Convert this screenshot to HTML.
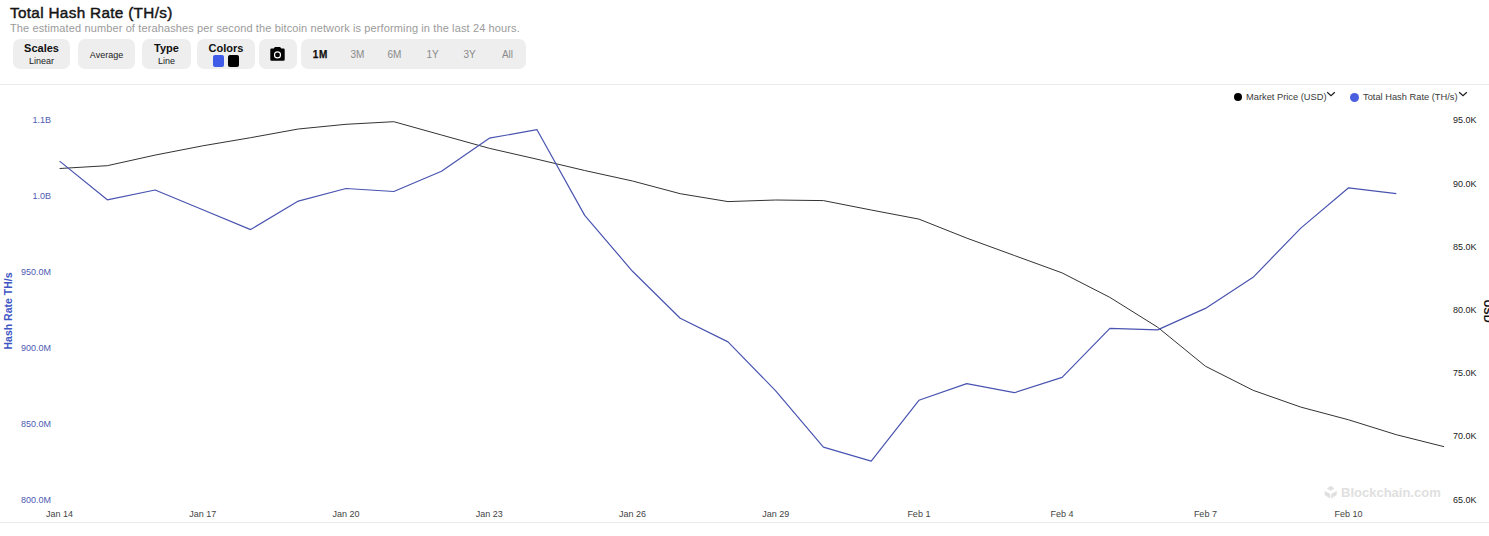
<!DOCTYPE html>
<html><head><meta charset="utf-8">
<style>
html,body{margin:0;padding:0;background:#fff;}
body{width:1489px;height:536px;position:relative;overflow:hidden;font-family:"Liberation Sans",sans-serif;}
.abs{position:absolute;}
.title{position:absolute;left:10px;top:4px;font-size:15.3px;font-weight:normal;color:#151515;-webkit-text-stroke:0.45px #151515;letter-spacing:0.32px;white-space:nowrap;line-height:18px;}
.sub{position:absolute;left:10px;top:22px;font-size:11px;color:#9b9b9b;white-space:nowrap;line-height:13px;letter-spacing:0.12px;}
.btn{position:absolute;top:39px;height:30px;background:#eeeeee;border-radius:7px;text-align:center;color:#111;}
.btn .h{font-size:11px;font-weight:bold;line-height:12px;position:absolute;left:0;right:0;top:3px;}
.btn .s{font-size:9px;line-height:10px;position:absolute;left:0;right:0;top:17px;color:#222;}
.btn .m{font-size:9px;line-height:10px;position:absolute;left:0;right:0;top:10.7px;color:#222;}
.per{position:absolute;top:10px;font-size:10px;line-height:12px;color:#8a8a8a;width:30px;text-align:center;}
.hr{position:absolute;left:0;width:1489px;height:1px;background:#ebebeb;}
.xl{position:absolute;top:509px;width:60px;text-align:center;font-size:9px;line-height:11px;color:#444;}
.ll{position:absolute;left:0;width:51px;text-align:right;font-size:9px;line-height:12px;color:#4d5ab4;}
.rl{position:absolute;left:1453px;font-size:9px;line-height:12px;color:#222;}
.leg{position:absolute;top:91px;font-size:9.3px;line-height:12px;color:#3a3a3a;white-space:nowrap;}
</style></head><body>
<div class="title">Total Hash Rate (TH/s)</div>
<div class="sub">The estimated number of terahashes per second the bitcoin network is performing in the last 24 hours.</div>

<div class="btn" style="left:13px;width:57px;"><div class="h">Scales</div><div class="s">Linear</div></div>
<div class="btn" style="left:78px;width:57px;"><div class="m">Average</div></div>
<div class="btn" style="left:142px;width:49px;"><div class="h">Type</div><div class="s">Line</div></div>
<div class="btn" style="left:197px;width:58px;"><div class="h">Colors</div>
  <div class="abs" style="left:16px;top:16px;width:11px;height:12px;border-radius:2px;background:#3f5be8;"></div>
  <div class="abs" style="left:31px;top:16px;width:11px;height:12px;border-radius:2px;background:#000;"></div>
</div>
<div class="btn" style="left:259px;width:38px;">
  <svg class="abs" style="left:0;top:0" width="38" height="30" viewBox="0 0 38 30">
    <path d="M12.5 9.6 h2.2 l1.2-1.6 h5.2 l1.2 1.6 h2.2 a1.2 1.2 0 0 1 1.2 1.2 v9.7 a1.2 1.2 0 0 1-1.2 1.2 h-12 a1.2 1.2 0 0 1-1.2-1.2 v-9.7 a1.2 1.2 0 0 1 1.2-1.2z" fill="#000"/>
    <circle cx="18.5" cy="15.9" r="3.0" fill="none" stroke="#fff" stroke-width="1.15"/>
  </svg>
</div>
<div class="btn" style="left:301px;width:225px;">
  <div class="per" style="left:4.5px;font-weight:bold;color:#111;letter-spacing:0.7px;-webkit-text-stroke:0.25px #111;">1M</div>
  <div class="per" style="left:41.5px;">3M</div>
  <div class="per" style="left:78.5px;">6M</div>
  <div class="per" style="left:116.5px;">1Y</div>
  <div class="per" style="left:153.5px;">3Y</div>
  <div class="per" style="left:191.5px;">All</div>
</div>

<div class="hr" style="top:84px;"></div>
<div class="hr" style="top:522px;"></div>

<div class="abs" style="left:1234.3px;top:93.2px;width:8px;height:8px;border-radius:50%;background:#000;"></div>
<div class="leg" style="left:1246px;">Market Price (USD)</div>
<svg class="abs" style="left:1326px;top:91px" width="10" height="6" viewBox="0 0 10 6"><path d="M1.2 1.2 L5 4.6 L8.8 1.2" fill="none" stroke="#1a1a1a" stroke-width="1.2"/></svg>
<div class="abs" style="left:1350.2px;top:93.3px;width:9px;height:9px;border-radius:50%;background:#4a5ee0;"></div>
<div class="leg" style="left:1363px;">Total Hash Rate (TH/s)</div>
<svg class="abs" style="left:1458px;top:91px" width="10" height="6" viewBox="0 0 10 6"><path d="M1.2 1.2 L5 4.6 L8.8 1.2" fill="none" stroke="#1a1a1a" stroke-width="1.2"/></svg>

<div class="ll" style="top:114.4px">1.1B</div><div class="ll" style="top:190.2px">1.0B</div><div class="ll" style="top:266.0px">950.0M</div><div class="ll" style="top:341.9px">900.0M</div><div class="ll" style="top:417.7px">850.0M</div><div class="ll" style="top:493.5px">800.0M</div>
<div class="rl" style="top:114.4px">95.0K</div><div class="rl" style="top:177.6px">90.0K</div><div class="rl" style="top:240.8px">85.0K</div><div class="rl" style="top:304.0px">80.0K</div><div class="rl" style="top:367.1px">75.0K</div><div class="rl" style="top:430.3px">70.0K</div><div class="rl" style="top:493.5px">65.0K</div>
<div class="xl" style="left:29.6px">Jan 14</div><div class="xl" style="left:172.8px">Jan 17</div><div class="xl" style="left:316.0px">Jan 20</div><div class="xl" style="left:459.3px">Jan 23</div><div class="xl" style="left:602.5px">Jan 26</div><div class="xl" style="left:745.7px">Jan 29</div><div class="xl" style="left:888.9px">Feb 1</div><div class="xl" style="left:1032.1px">Feb 4</div><div class="xl" style="left:1175.4px">Feb 7</div><div class="xl" style="left:1318.6px">Feb 10</div>

<div class="abs" style="left:-31px;top:305px;width:77px;text-align:center;transform:rotate(-90deg);font-size:10.5px;font-weight:bold;color:#3e56c4;line-height:12px;white-space:nowrap;">Hash Rate TH/s</div>
<div class="abs" style="left:1473.3px;top:305px;width:30px;text-align:center;transform:rotate(90deg);font-size:11px;font-weight:bold;color:#111;line-height:12px;white-space:nowrap;">USD</div>

<svg class="abs" style="left:1320px;top:482px" width="22" height="20" viewBox="0 0 22 20">
  <g fill="#e0e0e0" stroke="#e0e0e0" stroke-width="0.5" stroke-linejoin="round">
  <path d="M7.2 6.4 L10.7 4.0 L14.2 6.4 L10.7 8.7 Z"/>
  <path d="M4.8 9.3 L10.0 12.0 V16.2 L5.0 12.9 Z"/>
  <path d="M16.6 9.3 L11.4 12.0 V16.2 L16.4 12.9 Z"/>
  </g>
</svg>
<div class="abs" style="left:1341px;top:485px;font-size:13px;font-weight:bold;color:#e0e0e0;line-height:15px;white-space:nowrap;">Blockchain.com</div>

<svg class="abs" style="left:0;top:0" width="1489" height="536">
  <polyline points="59.6,168.5 107.3,165.7 155.1,155.1 202.8,145.8 250.6,137.7 298.3,129.0 346.0,124.3 393.8,121.7 441.5,135.0 489.3,148.3 537.0,159.2 584.7,170.5 632.5,181.0 680.2,193.7 728.0,201.6 775.7,200.0 823.4,200.6 871.2,210.0 918.9,219.1 966.7,238.1 1014.4,255.5 1062.1,272.9 1109.9,297.4 1157.6,327.2 1205.4,366.2 1253.1,390.3 1300.8,407.1 1348.6,419.8 1396.3,434.7 1444.1,446.7" fill="none" stroke="#333" stroke-width="1" stroke-linejoin="round"/>
  <polyline points="59.6,161.1 107.3,199.8 155.1,190.0 202.8,209.7 250.6,229.6 298.3,201.1 346.0,188.5 393.8,191.5 441.5,171.2 489.3,138.2 537.0,129.7 584.7,215.4 632.5,271.3 680.2,318.2 728.0,341.9 775.7,390.8 823.4,447.2 871.2,461.2 918.9,400.3 966.7,383.6 1014.4,392.7 1062.1,377.4 1109.9,328.4 1157.6,329.9 1205.4,308.4 1253.1,277.3 1300.8,228.1 1348.6,187.8 1396.3,193.6" fill="none" stroke="#4954b0" stroke-width="1.2" stroke-linejoin="round"/>
</svg>
</body></html>
